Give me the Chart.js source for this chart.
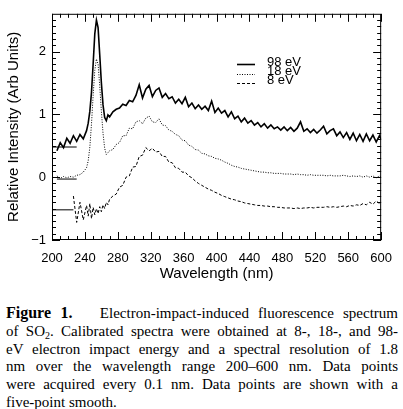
<!DOCTYPE html>
<html>
<head>
<meta charset="utf-8">
<script src="https://cdn.jsdelivr.net/npm/chart.js@4/dist/chart.umd.min.js"></script>
<style>
  body { margin: 0; background: #fff; width: 403px; height: 409px; position: relative; overflow: hidden; }
  #spectrum { position: absolute; left: 0; top: 0; }
  .cap { position: absolute; left: 6px; top: 304px; width: 392px; font: 15px "Liberation Serif", serif; line-height: 17.8px; color: #000; }
  .cap div { white-space: nowrap; }
  .cap .j { text-align: justify; text-align-last: justify; }
  .cap b { font-size: 16px; }
  .cap sub { font-size: 10px; line-height: 0; vertical-align: -3px; }
</style>
</head>
<body>
<canvas id="spectrum" width="403" height="290"></canvas>
<div class="cap">
  <div class="j"><b>Figure 1.</b>&nbsp;&nbsp; Electron-impact-induced fluorescence spectrum</div>
  <div class="j">of SO<sub>2</sub>. Calibrated spectra were obtained at 8-, 18-, and 98-</div>
  <div class="j">eV electron impact energy and a spectral resolution of 1.8</div>
  <div class="j">nm over the wavelength range 200–600 nm. Data points</div>
  <div class="j">were acquired every 0.1 nm. Data points are shown with a</div>
  <div>five-point smooth.</div>
</div>
<script>
// longueurs d'onde (nm)
const wavelengths = [
  206, 210, 214, 218, 222, 226, 230, 234, 238, 242,
  244, 246, 248, 250, 252, 254, 256, 258, 260, 262, 264, 266, 268, 270,
  274, 278, 282, 286, 290, 294, 298, 302, 306, 310, 314, 318, 322, 326, 330, 334,
  338, 342, 346, 350, 354, 358, 362, 366, 370, 374, 378, 382, 386, 390, 394, 398,
  402, 406, 410, 414, 418, 422, 426, 430, 434, 438, 442, 446, 450, 454, 458, 462,
  466, 470, 474, 478, 482, 486, 490, 494, 498, 502, 506, 510, 514, 518, 522, 526,
  530, 534, 538, 542, 546, 550, 554, 558, 562, 566, 570, 574, 578, 582, 586, 590,
  594, 598, 600
];

const ev98 = [
  0.42, 0.55, 0.47, 0.62, 0.54, 0.66, 0.57, 0.68, 0.61, 0.74,
  0.86, 1.05, 1.35, 1.80, 2.28, 2.50, 2.38, 1.95, 1.50, 1.15, 0.95, 0.90, 0.99, 0.96,
  1.04, 1.08, 1.10, 1.16, 1.14, 1.22, 1.20, 1.30, 1.47, 1.26, 1.40, 1.46, 1.28, 1.38, 1.42, 1.27,
  1.33, 1.25, 1.28, 1.18, 1.24, 1.17, 1.27, 1.12, 1.18, 1.09, 1.15, 1.08, 1.13, 1.06, 1.21, 1.03,
  1.10, 1.02, 1.06, 0.96, 1.04, 0.93, 0.97, 0.88, 0.94, 0.86, 0.90, 0.83, 0.87, 0.80, 0.85, 0.78,
  0.83, 0.77, 0.80, 0.75, 0.80, 0.74, 0.79, 0.73, 0.78, 0.88, 0.73, 0.77, 0.71, 0.76, 0.70, 0.75,
  0.81, 0.69, 0.74, 0.77, 0.66, 0.72, 0.63, 0.71, 0.60, 0.70, 0.58, 0.68, 0.57, 0.69, 0.58, 0.67,
  0.56, 0.66, 0.60
];

const ev18 = [
  0.02, -0.02, 0.01, -0.01, 0.01, 0.00, 0.03, 0.04, 0.08, 0.15,
  0.26, 0.48, 0.85, 1.30, 1.70, 1.88, 1.80, 1.45, 1.05, 0.70, 0.46, 0.36, 0.39, 0.42,
  0.44, 0.52, 0.55, 0.66, 0.66, 0.78, 0.77, 0.88, 0.90, 0.85, 0.94, 0.97, 0.88, 0.87, 0.93, 0.83,
  0.82, 0.75, 0.73, 0.68, 0.66, 0.59, 0.58, 0.51, 0.49, 0.44, 0.43, 0.38, 0.37, 0.34, 0.33, 0.30,
  0.29, 0.27, 0.24, 0.22, 0.19, 0.17, 0.16, 0.14, 0.13, 0.12, 0.11, 0.10, 0.09, 0.08, 0.08, 0.07,
  0.07, 0.06, 0.06, 0.06, 0.05, 0.05, 0.05, 0.04, 0.05, 0.04, 0.04, 0.03, 0.04, 0.03, 0.03, 0.03,
  0.03, 0.02, 0.03, 0.02, 0.02, 0.02, 0.03, 0.02, 0.01, 0.02, 0.01, 0.02, 0.00, 0.02, 0.00, 0.02,
  -0.01, 0.02, 0.00
];

const ev8 = [
  null, null, null, null, null, -0.30, -0.72, -0.40, -0.68, -0.45,
  -0.62, -0.42, -0.66, -0.48, -0.60, -0.50, -0.58, -0.47, -0.55, -0.44, -0.50, -0.40, -0.44, -0.35,
  -0.30, -0.27, -0.16, -0.13, 0.00, 0.02, 0.16, 0.17, 0.33, 0.35, 0.47, 0.42, 0.46, 0.40, 0.41, 0.33,
  0.33, 0.24, 0.23, 0.15, 0.14, 0.08, 0.08, 0.02, -0.01, -0.06, -0.10, -0.13, -0.16, -0.19, -0.21, -0.24,
  -0.26, -0.29, -0.31, -0.33, -0.35, -0.36, -0.38, -0.39, -0.41, -0.42, -0.43, -0.44, -0.45, -0.45, -0.46, -0.46,
  -0.47, -0.47, -0.48, -0.48, -0.49, -0.49, -0.49, -0.50, -0.49, -0.50, -0.49, -0.49, -0.48, -0.49, -0.48, -0.48,
  -0.48, -0.47, -0.48, -0.47, -0.48, -0.47, -0.46, -0.47, -0.45, -0.46, -0.44, -0.45, -0.42, -0.44, -0.40, -0.43,
  -0.38, -0.42, -0.40
];

const seriesLabels = ["98 eV", "18 eV", "8 eV"];
const seriesDash = [[], [1, 1.5], [3, 2]];
const seriesWidth = [1.6, 1, 1];

// niveaux de référence à gauche
const baselineLevels = [0.48, -0.03, -0.52];
const baselineStart = [200, 206, 200];
const baselineEnd = [230, 230, 226];

const xTicks = [200, 240, 280, 320, 360, 400, 440, 480, 520, 560, 600];
const yTicks = [-1, 0, 1, 2];

const toPoints = (vals) => wavelengths.map((w, i) => ({ x: w, y: vals[i] }));

const datasets = [ev98, ev18, ev8].map((vals, i) => ({
  label: seriesLabels[i],
  data: toPoints(vals),
  borderColor: "#000",
  borderWidth: seriesWidth[i],
  borderDash: seriesDash[i],
  pointRadius: 0,
  tension: 0,
  spanGaps: false,
}));

baselineLevels.forEach((lvl, i) => {
  datasets.push({
    label: "",
    data: [{ x: baselineStart[i], y: lvl }, { x: baselineEnd[i], y: lvl }],
    borderColor: "#000",
    borderWidth: 1,
    pointRadius: 0,
  });
});

// cadre + graduations vers l'intérieur + légende
const framePlugin = {
  id: "frame",
  afterDraw(chart) {
    const { ctx, chartArea: a, scales } = chart;
    const xs = scales.x, ys = scales.y;
    ctx.save();
    ctx.strokeStyle = "#000";
    ctx.lineWidth = 1;
    ctx.strokeRect(a.left + 0.5, a.top + 0.5, a.right - a.left - 1, a.bottom - a.top - 1);
    ctx.beginPath();
    for (let v = 200; v <= 600; v += 10) {
      const px = Math.round(xs.getPixelForValue(v)) + 0.5;
      const len = v % 40 === 0 ? 8 : 4;
      ctx.moveTo(px, a.bottom); ctx.lineTo(px, a.bottom - len);
      ctx.moveTo(px, a.top); ctx.lineTo(px, a.top + len);
    }
    for (let k = -10; k <= 25; k++) {
      const py = Math.round(ys.getPixelForValue(k / 10)) + 0.5;
      const len = k % 10 === 0 ? 8 : 4;
      ctx.moveTo(a.left, py); ctx.lineTo(a.left + len, py);
      ctx.moveTo(a.right, py); ctx.lineTo(a.right - len, py);
    }
    ctx.stroke();

    // légende
    ctx.font = '13px "Liberation Sans", sans-serif';
    ctx.fillStyle = "#000";
    ctx.textBaseline = "middle";
    const lineY = [64, 74, 83];
    const textY = [62, 71, 80];
    for (let i = 0; i < 3; i++) {
      const ds = chart.data.datasets[i];
      ctx.beginPath();
      ctx.setLineDash(ds.borderDash);
      ctx.lineWidth = ds.borderWidth;
      ctx.moveTo(237, lineY[i] + 0.5);
      ctx.lineTo(255, lineY[i] + 0.5);
      ctx.stroke();
      ctx.setLineDash([]);
      ctx.fillText(ds.label, 267, textY[i]);
    }
    ctx.restore();
  },
};

const ctx = document.getElementById("spectrum").getContext("2d");
const spectrumChart = new Chart(ctx, {
  type: "line",
  data: { datasets },
  options: {
    responsive: false,
    animation: false,
    devicePixelRatio: 1,
    layout: { padding: { left: 0, right: 19, top: 5, bottom: 0 } },
    plugins: { legend: { display: false }, tooltip: { enabled: false } },
    scales: {
      x: {
        type: "linear",
        min: 200,
        max: 600,
        afterBuildTicks: (s) => { s.ticks = xTicks.map((v) => ({ value: v })); },
        afterFit: (s) => { s.height = 50; },
        grid: { display: false, drawTicks: false },
        border: { display: false },
        ticks: { color: "#000", padding: 11, maxRotation: 0, font: { family: "Liberation Sans", size: 13 } },
        title: { display: true, text: "Wavelength (nm)", color: "#000", padding: { top: 0, bottom: 7 }, font: { family: "Liberation Sans", size: 15 } },
      },
      y: {
        min: -1,
        max: 2.6,
        afterBuildTicks: (s) => { s.ticks = yTicks.map((v) => ({ value: v })); },
        afterFit: (s) => { s.width = 52; },
        grid: { display: false, drawTicks: false },
        border: { display: false },
        ticks: { color: "#000", padding: 6, font: { family: "Liberation Sans", size: 13 }, callback: (v) => String(v).replace("-", "\u2212") },
        title: { display: true, text: "Relative Intensity (Arb Units)", color: "#000", padding: { top: 5, bottom: 0 }, font: { family: "Liberation Sans", size: 15 } },
      },
    },
  },
  plugins: [framePlugin],
});
</script>
</body>
</html>
